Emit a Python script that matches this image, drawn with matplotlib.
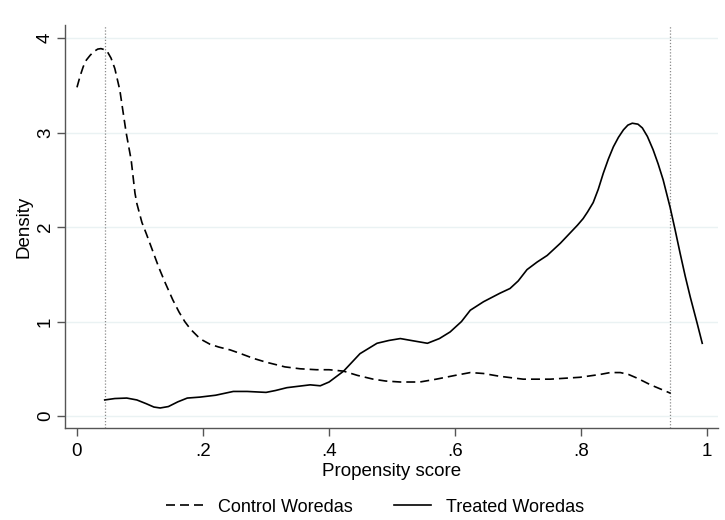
import matplotlib
matplotlib.use("Agg")
import matplotlib.pyplot as plt
from matplotlib.lines import Line2D

plt.rcParams['font.family'] = ['Liberation Sans', 'DejaVu Sans']

# Control Woredas (dashed)
control_x = [0.0, 0.005, 0.01, 0.015, 0.021, 0.027, 0.033, 0.038, 0.043, 0.048, 0.054,
             0.06, 0.068, 0.078, 0.086, 0.092,
             0.095, 0.103, 0.11, 0.12, 0.13, 0.14, 0.152, 0.162, 0.171, 0.18, 0.192,
             0.2, 0.211, 0.225, 0.243, 0.26, 0.28, 0.3, 0.33, 0.354, 0.38, 0.4, 0.423,
             0.445, 0.47, 0.49, 0.513, 0.544, 0.57, 0.6, 0.624, 0.645, 0.671, 0.708,
             0.751, 0.798, 0.83, 0.846, 0.862, 0.875, 0.889, 0.91, 0.935, 0.942]
control_y = [3.48, 3.6, 3.7, 3.77, 3.82, 3.86, 3.885, 3.89, 3.88, 3.86, 3.79,
             3.68, 3.45, 3.0, 2.71, 2.36,
             2.25, 2.05, 1.93, 1.75, 1.57, 1.41, 1.23, 1.1, 1.0, 0.92, 0.84,
             0.80, 0.76, 0.73, 0.70, 0.66, 0.61, 0.57, 0.52, 0.50, 0.49, 0.49, 0.475,
             0.43, 0.39, 0.37, 0.36, 0.36, 0.39, 0.43, 0.46, 0.45, 0.42, 0.39,
             0.39, 0.41, 0.44, 0.46, 0.46, 0.44, 0.40, 0.33, 0.26, 0.24]

# Treated Woredas (solid)
treated_x = [0.044, 0.06, 0.079, 0.095, 0.11, 0.122, 0.132, 0.145, 0.16, 0.175, 0.195,
             0.22, 0.248, 0.27, 0.3, 0.315, 0.333, 0.37, 0.386, 0.4, 0.423, 0.449,
             0.476, 0.495, 0.513, 0.53, 0.556, 0.575, 0.592, 0.61, 0.624, 0.645, 0.671,
             0.687, 0.7, 0.714, 0.73, 0.746, 0.767, 0.794, 0.803, 0.81, 0.819, 0.827,
             0.835, 0.843, 0.851, 0.859, 0.867, 0.874, 0.881, 0.89, 0.897, 0.905, 0.914,
             0.922, 0.93, 0.941, 0.949, 0.957, 0.965, 0.973, 0.984, 0.992]
treated_y = [0.17, 0.185, 0.19, 0.17, 0.13, 0.095, 0.085, 0.10, 0.15, 0.19, 0.20,
             0.22, 0.26, 0.26, 0.25, 0.27, 0.30, 0.33, 0.32, 0.36, 0.475, 0.66,
             0.77, 0.80, 0.82, 0.80, 0.77, 0.82, 0.89, 1.0, 1.12, 1.21, 1.30,
             1.35, 1.43, 1.55, 1.63, 1.70, 1.83, 2.02, 2.09, 2.16, 2.26, 2.40,
             2.57, 2.72, 2.85, 2.95, 3.03, 3.08, 3.10, 3.09, 3.05, 2.96, 2.82,
             2.67, 2.5, 2.21, 1.97, 1.72, 1.48, 1.26, 0.98, 0.77]

common_support = [0.0444, 0.941]

x_ticks = [0, 0.2, 0.4, 0.6, 0.8, 1.0]
x_tick_labels = ['0', '.2', '.4', '.6', '.8', '1']
y_ticks = [0, 1, 2, 3, 4]
y_tick_labels = ['0', '1', '2', '3', '4']

fig = plt.figure(figsize=(7.25, 5.2), dpi=100)
ax = fig.add_axes([65/725, 1-428/520, (718-65)/725, (428-25)/520])

ax.set_xlim(-0.019, 1.017)
ax.set_ylim(-0.127, 4.14)

for yv in y_ticks:
    ax.axhline(yv, color='#eaf2f3', lw=1.0, zorder=0)
for xv in common_support:
    ax.axvline(xv, color='#8a8a8a', lw=0.9, ls=(0, (1, 1.5)), zorder=1)

ctrl, = ax.plot(control_x, control_y, color='black', lw=1.2, zorder=3)
ctrl.set_dashes((5.4, 3.0))
ax.plot(treated_x, treated_y, color='black', lw=1.2, zorder=3)

ax.set_xticks(x_ticks)
ax.set_xticklabels(x_tick_labels)
ax.set_yticks(y_ticks)
ax.set_yticklabels(y_tick_labels, rotation=90, va='center')

for s in ['top', 'right']:
    ax.spines[s].set_visible(False)
for s in ['left', 'bottom']:
    ax.spines[s].set_color('#555555')
    ax.spines[s].set_linewidth(1.0)

ax.tick_params(axis='both', direction='out', length=6, width=1.0, color='#555555',
               labelsize=13.5)
ax.tick_params(axis='x', pad=5)
ax.tick_params(axis='y', pad=2)
ax.set_xlabel('Propensity score', fontsize=13.5, labelpad=2)
ax.set_ylabel('Density', fontsize=13.5, labelpad=3)

h1 = Line2D([], [], color='black', lw=1.2)
h1.set_dashes((5.4, 3.0))
h2 = Line2D([], [], color='black', lw=1.2)
fig.legend([h1, h2], ['Control Woredas', 'Treated Woredas'], loc='center',
           bbox_to_anchor=(375/725, 1-507/520), ncol=2, frameon=False,
           fontsize=13, handlelength=2.05, handletextpad=0.8, columnspacing=2.3)

fig.savefig('out.png', dpi=100, facecolor='white')
